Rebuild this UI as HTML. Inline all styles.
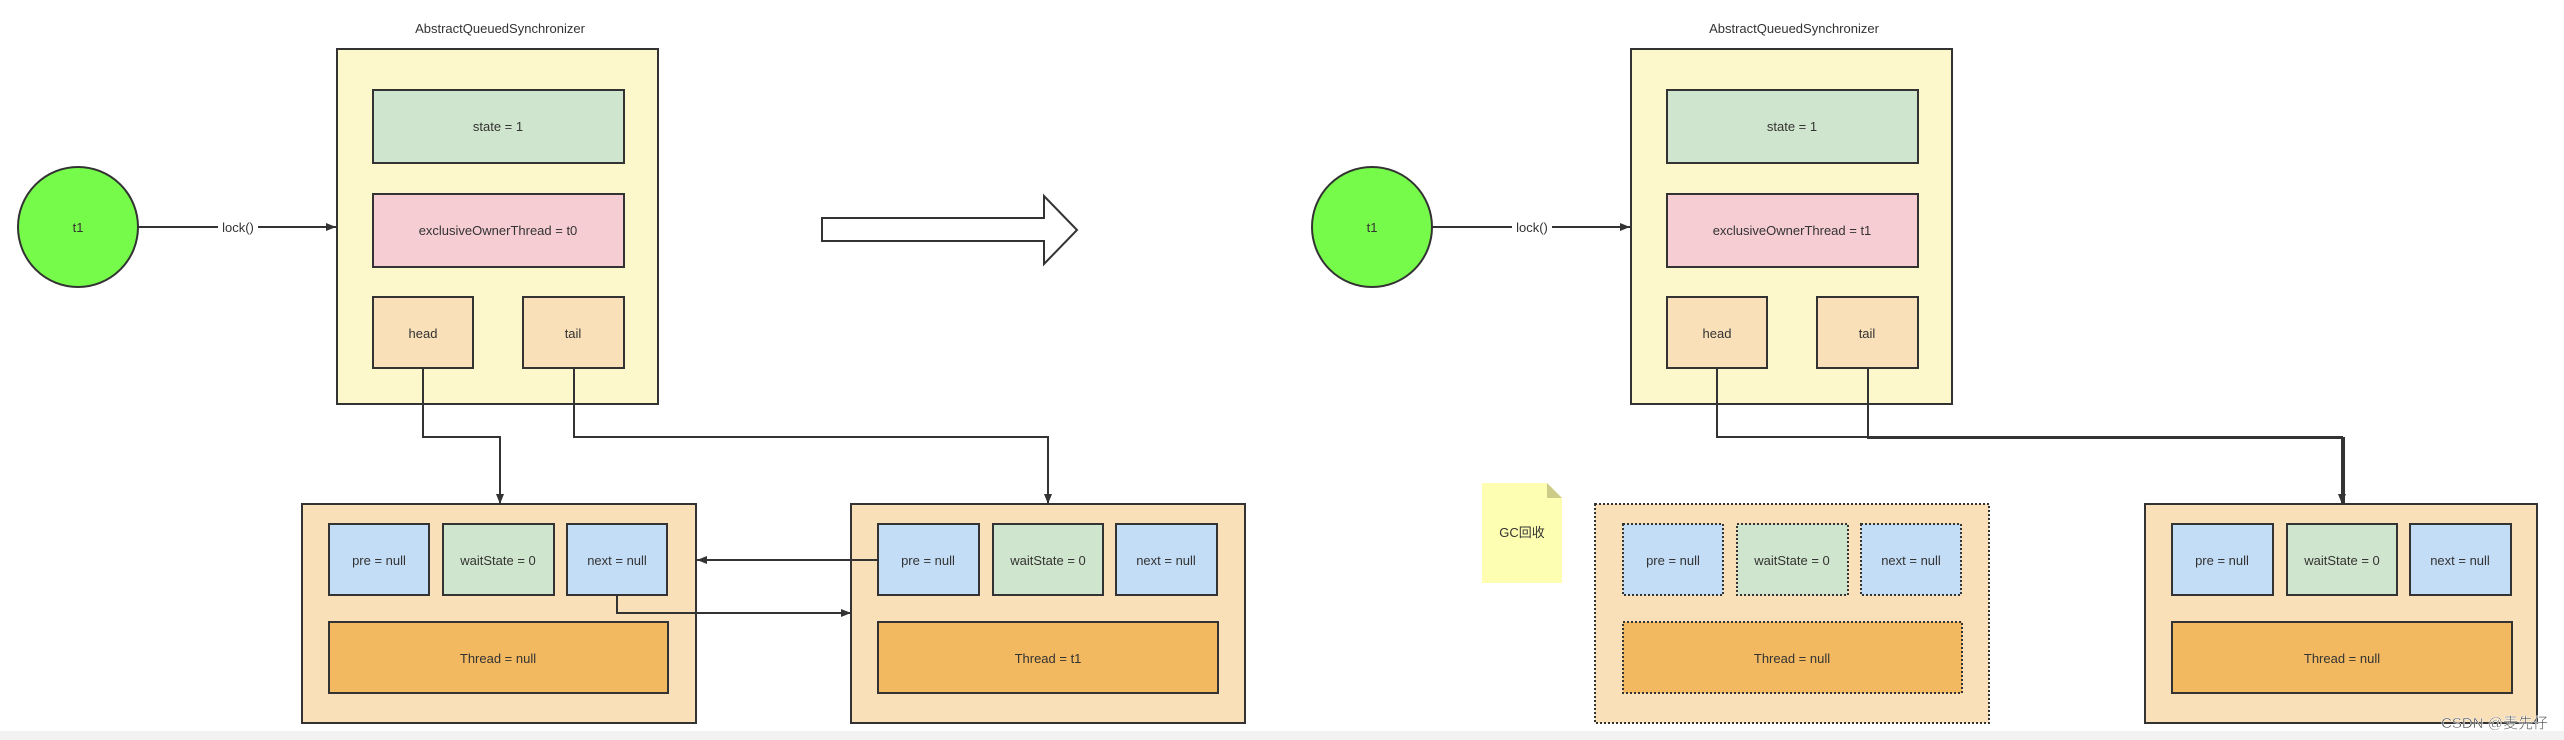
<!DOCTYPE html>
<html><head><meta charset="utf-8"><style>
html,body{margin:0;padding:0;background:#fff;}
svg{display:block;}
text{font-family:"Liberation Sans","Noto Sans CJK SC",sans-serif;fill:#333;}
</style></head><body>
<svg width="2564" height="740" viewBox="0 0 2564 740" xmlns="http://www.w3.org/2000/svg">
<defs>
<marker id="ar" markerWidth="10" markerHeight="8" refX="10" refY="4" orient="auto" markerUnits="userSpaceOnUse"><path d="M0,0 L10,4 L0,8 Z" fill="#333"/></marker>
<marker id="ar2" markerWidth="14" markerHeight="10" refX="14" refY="5" orient="auto" markerUnits="userSpaceOnUse"><path d="M0,0 L14,5 L0,10 Z" fill="#333"/></marker>
<g id="aqs">
  <text x="500" y="33" font-size="13" text-anchor="middle" fill="#000">AbstractQueuedSynchronizer</text>
  <rect x="337" y="49" width="321" height="355" fill="#fcf8cb" stroke="#333" stroke-width="2"/>
  <rect x="373" y="90" width="251" height="73" fill="#d0e5cd" stroke="#333" stroke-width="2"/>
  <text x="498" y="131" font-size="13" text-anchor="middle">state = 1</text>
  <rect x="373" y="194" width="251" height="73" fill="#f6cdd3" stroke="#333" stroke-width="2"/>
  <rect x="373" y="297" width="100" height="71" fill="#f9e0b8" stroke="#333" stroke-width="2"/>
  <text x="423" y="338" font-size="13" text-anchor="middle">head</text>
  <rect x="523" y="297" width="101" height="71" fill="#f9e0b8" stroke="#333" stroke-width="2"/>
  <text x="573" y="338" font-size="13" text-anchor="middle">tail</text>
  <circle cx="78" cy="227" r="60" fill="#76fb4a" stroke="#333" stroke-width="2"/>
  <text x="78" y="232" font-size="13" text-anchor="middle">t1</text>
  <line x1="138" y1="227" x2="336" y2="227" stroke="#333" stroke-width="2" marker-end="url(#ar)"/>
  <rect x="218" y="219" width="40" height="16" fill="#fff"/>
  <text x="238" y="232" font-size="13" text-anchor="middle">lock()</text>
</g>
<g id="node">
  <rect x="1" y="1" width="70" height="20" fill="none"/>
</g>
</defs>

<!-- LEFT -->
<use href="#aqs"/>
<text x="498" y="235" font-size="13" text-anchor="middle">exclusiveOwnerThread = t0</text>

<!-- big arrow -->
<path d="M822,218 L1044,218 L1044,196 L1077,230 L1044,264 L1044,241 L822,241 Z" fill="#fff" stroke="#333" stroke-width="2"/>

<!-- node1 -->
<rect x="302" y="504" width="394" height="219" fill="#f9e0b8" stroke="#333" stroke-width="2"/>
<rect x="329" y="524" width="100" height="71" fill="#c4ddf6" stroke="#333" stroke-width="2"/>
<text x="379" y="565" font-size="13" text-anchor="middle">pre = null</text>
<rect x="443" y="524" width="111" height="71" fill="#d0e5cd" stroke="#333" stroke-width="2"/>
<text x="498" y="565" font-size="13" text-anchor="middle">waitState = 0</text>
<rect x="567" y="524" width="100" height="71" fill="#c4ddf6" stroke="#333" stroke-width="2"/>
<text x="617" y="565" font-size="13" text-anchor="middle">next = null</text>
<rect x="329" y="622" width="339" height="71" fill="#f2b961" stroke="#333" stroke-width="2"/>
<text x="498" y="663" font-size="13" text-anchor="middle">Thread = null</text>

<!-- node2 -->
<rect x="851" y="504" width="394" height="219" fill="#f9e0b8" stroke="#333" stroke-width="2"/>
<rect x="878" y="524" width="101" height="71" fill="#c4ddf6" stroke="#333" stroke-width="2"/>
<text x="928" y="565" font-size="13" text-anchor="middle">pre = null</text>
<rect x="993" y="524" width="110" height="71" fill="#d0e5cd" stroke="#333" stroke-width="2"/>
<text x="1048" y="565" font-size="13" text-anchor="middle">waitState = 0</text>
<rect x="1116" y="524" width="101" height="71" fill="#c4ddf6" stroke="#333" stroke-width="2"/>
<text x="1166" y="565" font-size="13" text-anchor="middle">next = null</text>
<rect x="878" y="622" width="340" height="71" fill="#f2b961" stroke="#333" stroke-width="2"/>
<text x="1048" y="663" font-size="13" text-anchor="middle">Thread = t1</text>

<!-- connectors left -->
<polyline points="423,368 423,437 500,437 500,504" fill="none" stroke="#333" stroke-width="2" marker-end="url(#ar)"/>
<polyline points="574,368 574,437 1048,437 1048,504" fill="none" stroke="#333" stroke-width="2" marker-end="url(#ar)"/>
<line x1="878" y1="560" x2="697" y2="560" stroke="#333" stroke-width="2" marker-end="url(#ar)"/>
<polyline points="617,595 617,613 851,613" fill="none" stroke="#333" stroke-width="2" marker-end="url(#ar)"/>

<!-- RIGHT -->
<g transform="translate(1294,0)">
<use href="#aqs"/>
<text x="498" y="235" font-size="13" text-anchor="middle">exclusiveOwnerThread = t1</text>

<!-- GC note -->
<path d="M188,483 L253,483 L268,498 L268,583 L188,583 Z" fill="#fefeb2"/>
<path d="M253,483 L268,498 L253,498 Z" fill="#cccc88"/>
<text x="228" y="537" font-size="13" text-anchor="middle">GC回收</text>

<!-- dashed node -->
<g stroke="#333" stroke-width="2" stroke-dasharray="2,2">
<rect x="301" y="504" width="394" height="219" fill="#f9e0b8"/>
<rect x="329" y="524" width="100" height="71" fill="#c4ddf6"/>
<rect x="443" y="524" width="111" height="71" fill="#d0e5cd"/>
<rect x="567" y="524" width="100" height="71" fill="#c4ddf6"/>
<rect x="329" y="622" width="339" height="71" fill="#f2b961"/>
</g>
<text x="379" y="565" font-size="13" text-anchor="middle">pre = null</text>
<text x="498" y="565" font-size="13" text-anchor="middle">waitState = 0</text>
<text x="617" y="565" font-size="13" text-anchor="middle">next = null</text>
<text x="498" y="663" font-size="13" text-anchor="middle">Thread = null</text>

<!-- node right -->
<rect x="851" y="504" width="392" height="219" fill="#f9e0b8" stroke="#333" stroke-width="2"/>
<rect x="878" y="524" width="101" height="71" fill="#c4ddf6" stroke="#333" stroke-width="2"/>
<text x="928" y="565" font-size="13" text-anchor="middle">pre = null</text>
<rect x="993" y="524" width="110" height="71" fill="#d0e5cd" stroke="#333" stroke-width="2"/>
<text x="1048" y="565" font-size="13" text-anchor="middle">waitState = 0</text>
<rect x="1116" y="524" width="101" height="71" fill="#c4ddf6" stroke="#333" stroke-width="2"/>
<text x="1166" y="565" font-size="13" text-anchor="middle">next = null</text>
<rect x="878" y="622" width="340" height="71" fill="#f2b961" stroke="#333" stroke-width="2"/>
<text x="1048" y="663" font-size="13" text-anchor="middle">Thread = null</text>

<polyline points="423,368 423,437 1048,437 1048,504" fill="none" stroke="#333" stroke-width="2" marker-end="url(#ar)"/>
<polyline points="574,368 574,438 1050,438 1050,504" fill="none" stroke="#333" stroke-width="2"/>
</g>

<!-- bottom bar & watermark -->
<rect x="0" y="731" width="2564" height="9" fill="#f2f2f2"/>
<text x="2548" y="728" font-size="15" text-anchor="end" fill="#888" stroke="#fff" stroke-width="0.5">CSDN @麦先仔</text>
</svg>
</body></html>
